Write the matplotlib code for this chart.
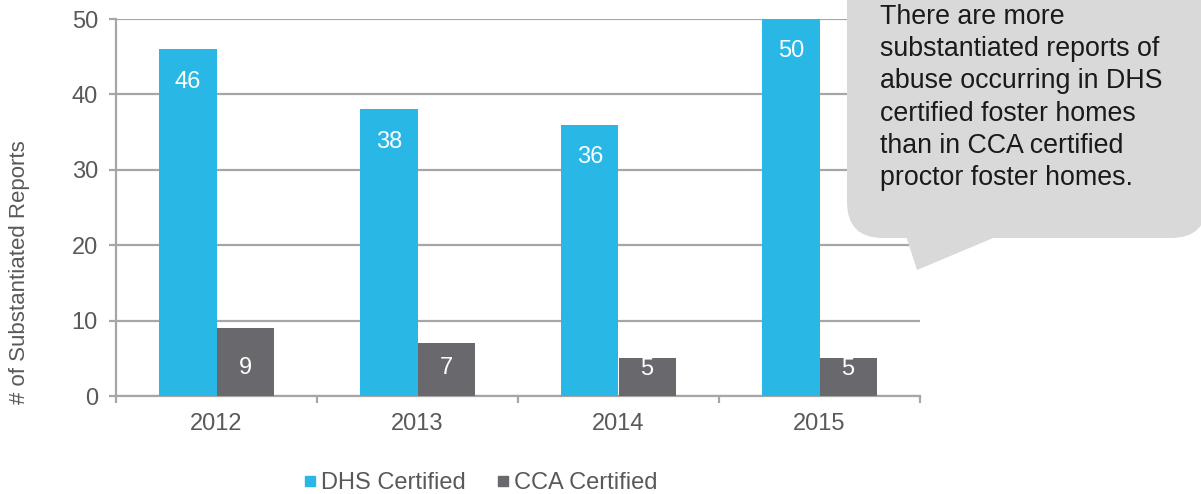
import matplotlib
matplotlib.use("Agg")
import matplotlib.pyplot as plt
import numpy as np
from matplotlib.patches import FancyBboxPatch, Polygon
from matplotlib.lines import Line2D
import matplotlib.transforms as mtransforms

plt.rcParams['font.family'] = ['Liberation Sans', 'DejaVu Sans']

years = ["2012", "2013", "2014", "2015"]
dhs = [46, 38, 36, 50]
cca = [9, 7, 5, 5]
series_names = ["DHS Certified", "CCA Certified"]
callout_text = ("There are more\nsubstantiated reports of\nabuse occurring in DHS\n"
                "certified foster homes\nthan in CCA certified\nproctor foster homes.")

BLUE = "#29B8E6"
GRAY = "#69686D"
AXC = "#A6A6A6"
TXT = "#595959"

W, H = 1201, 494
fig = plt.figure(figsize=(W / 100, H / 100), dpi=100)
ax = fig.add_axes([116 / W, 1 - 396 / H, (920 - 116) / W, (396 - 19) / H])
pix = mtransforms.Affine2D().scale(1, -1).translate(0, H).scale(1 / W, 1 / H) + fig.transFigure

x = np.arange(len(years))
bw = 0.285
ax.bar(x - bw / 2, dhs, bw, color=BLUE, zorder=3)
ax.bar(x + bw / 2, cca, bw, color=GRAY, zorder=3)

for xi, v in zip(x, dhs):
    ax.text(xi - bw / 2, v - 4.3, str(v), color="white", ha="center", va="center",
            fontsize=17, zorder=4)
for xi, v in zip(x, cca):
    ax.text(xi + bw / 2, min(3.7, v - 1.4), str(v), color="white", ha="center", va="center",
            fontsize=17, zorder=4)

ax.set_xlim(-0.5, len(years) - 0.5)
ax.set_ylim(0, 50)
ax.set_yticks([0, 10, 20, 30, 40, 50])
ax.yaxis.grid(True, color=AXC, linewidth=1.6, zorder=0)
ax.set_axisbelow(True)
for s in ["top", "right"]:
    ax.spines[s].set_visible(False)
for s in ["left", "bottom"]:
    ax.spines[s].set_color(AXC)
    ax.spines[s].set_linewidth(1.6)

ax.set_xticks(x)
ax.set_xticklabels(years)
ax.set_xticks(np.arange(len(years) + 1) - 0.5, minor=True)
ax.tick_params(axis="x", which="major", length=0, pad=12, labelsize=17, labelcolor=TXT)
ax.tick_params(axis="x", which="minor", length=5, width=1.6, color=AXC)
ax.tick_params(axis="y", length=5, width=1.6, color=AXC, labelsize=17, labelcolor=TXT, pad=8)
fig.text(20 / W, 1 - 272 / H, "# of Substantiated Reports", rotation=90, ha="center",
         va="center", fontsize=16, color=TXT)

handles = [Line2D([], [], marker="s", linestyle="none", markersize=7.5, color=BLUE),
           Line2D([], [], marker="s", linestyle="none", markersize=7.5, color=GRAY)]
leg = fig.legend(handles, series_names, loc="center", bbox_to_anchor=(480 / W, 1 - 483 / H),
                 ncol=2, frameon=False, fontsize=17, handlelength=0.6, handletextpad=0.15,
                 columnspacing=1.3, labelcolor=TXT)

# callout in pixel coordinates (origin top-left)
box = FancyBboxPatch((847, -60), 360, 298, boxstyle="round,pad=0,rounding_size=36",
                     transform=pix, facecolor="#D9D9D9", edgecolor="none", zorder=10,
                     clip_on=False)
fig.add_artist(box)
tail = Polygon([[906, 236], [917, 270], [998, 236]], closed=True, transform=pix,
               facecolor="#D9D9D9", edgecolor="none", zorder=10, clip_on=False)
fig.add_artist(tail)
fig.text(880 / W, 1 - 4 / H, callout_text, ha="left", va="top", fontsize=19.3,
         color="#1A1A1A", linespacing=1.31, zorder=11)

fig.savefig("out.png", dpi=100)
